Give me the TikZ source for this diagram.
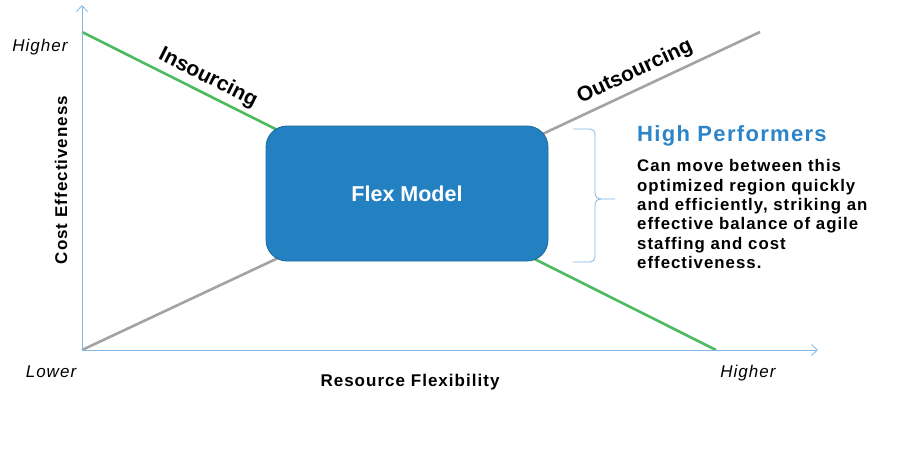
\documentclass[tikz,border=0pt]{standalone}
\usepackage{fontspec}
\setmainfont{Liberation Sans}
\usetikzlibrary{arrows.meta}
\definecolor{axisblue}{HTML}{85B8E3}
\definecolor{greenline}{HTML}{4DBA60}
\definecolor{grayline}{HTML}{A3A3A3}
\definecolor{boxblue}{HTML}{2381C1}
\definecolor{boxborder}{HTML}{1B689E}
\definecolor{headblue}{HTML}{2B85C8}
\newfontfamily\spacedfont[LetterSpace=6]{Liberation Sans}
\tikzset{
  axisline/.style={draw=axisblue, line width=0.9pt, -{Straight Barb[length=6pt,width=11pt,line width=0.8pt]}},
  trendline/.style={line width=2.6pt},
  flexbox/.style={draw=boxborder, line width=0.8pt, fill=boxblue, rounded corners=21pt,
    minimum width=282pt, minimum height=135pt, inner sep=0pt,
    text=white, font=\fontsize{21.5}{25}\selectfont\bfseries},
  endlabel/.style={font=\spacedfont\fontsize{17}{20}\selectfont\itshape, inner sep=0pt, anchor=base},
  axislabel/.style={font=\spacedfont\fontsize{17}{20}\selectfont\bfseries, inner sep=0pt},
  linelabel/.style={font=\fontsize{21}{25}\selectfont\bfseries, inner sep=0pt},
  bracestyle/.style={draw=axisblue, line width=0.8pt},
}
\begin{document}
\begin{tikzpicture}[x=1pt,y=-1pt]
\useasboundingbox (0,0) rectangle (900,460);
\fill[white] (0,0) rectangle (900,460);
% coordinates
\coordinate (origin) at (82,350);
\coordinate (ytop) at (82,5);
\coordinate (xend) at (818,350);
\coordinate (inA) at (82,32);
\coordinate (inB) at (716,350);
\coordinate (outB) at (760,32);
\coordinate (brTop) at (573,129);
\coordinate (brBot) at (573,262);
\coordinate (brTip) at (615,199);
% trend lines
\draw[trendline, draw=greenline] (inA) -- (inB);
\draw[trendline, draw=grayline] (origin) -- (outB);
% axes
\draw[axisline] (origin) -- (ytop);
\draw[axisline] (origin) -- (xend);
% box
\node[flexbox] (flex) at (407,193.5) {Flex Model};
% line labels
\node[linelabel, rotate=-26.6] (insourcing) at (208,78) {Insourcing};
\node[linelabel, rotate=25.1] (outsourcing) at (635,72) {Outsourcing};
% axis end labels
\node[endlabel] (yhigh) at (40,52) {Higher};
\node[endlabel] (xlow) at (51,377) {Lower};
\node[endlabel] (xhigh) at (748,377) {Higher};
% axis titles
\node[axislabel, rotate=90] (ytitle) at (61,180) {Cost Effectiveness};
\node[axislabel, anchor=base] (xtitle) at (410,386) {Resource Flexibility};
% brace
\draw[bracestyle] (brTop) -- (589,129) .. controls (593,129) and (595,131) .. (595,135)
  -- (595,192) .. controls (595,197) and (597,199) .. (602,199) -- (brTip)
  -- (602,199) .. controls (597,199) and (595,201) .. (595,206)
  -- (595,256) .. controls (595,260) and (593,262) .. (589,262) -- (brBot);
% right text
\node[anchor=base west, inner sep=0pt, text=headblue, font=\spacedfont\fontsize{22}{26}\selectfont\bfseries] (head) at (637,141) {High Performers};
\node[anchor=north west, inner sep=0pt, align=left, font=\spacedfont\fontsize{16.8}{19.3}\selectfont\bfseries] (body) at (637,159.5)
  {Can move between this\\optimized region quickly\\and efficiently, striking an\\effective balance of agile\\staffing and cost\\effectiveness.};
\end{tikzpicture}
\end{document}
